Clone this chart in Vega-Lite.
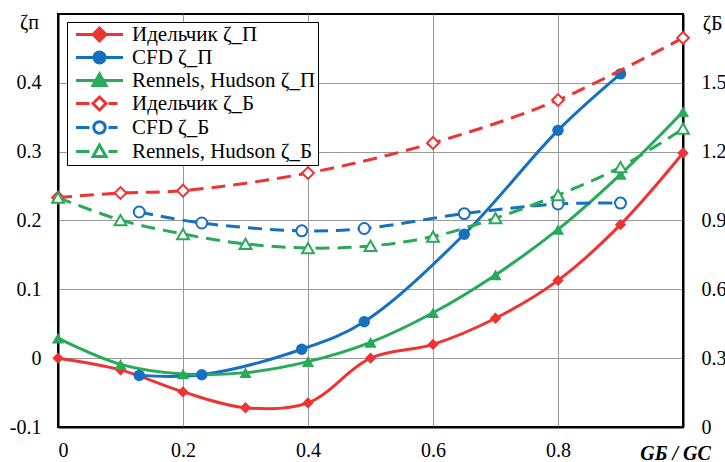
{
  "$schema": "https://vega.github.io/schema/vega-lite/v6.json",
  "width": 625,
  "height": 413,
  "autosize": {"type": "none"},
  "padding": {"left": 58, "top": 14, "right": 42, "bottom": 35},
  "background": "white",
  "config": {
    "font": "Liberation Serif, Times New Roman, serif",
    "view": {"stroke": "black", "strokeWidth": 2},
    "axis": {
      "labelFont": "Liberation Serif, Times New Roman, serif",
      "labelFontSize": 20,
      "labelColor": "black",
      "ticks": false,
      "domain": true,
      "domainColor": "black",
      "domainWidth": 2,
      "gridColor": "#999999",
      "gridWidth": 1,
      "gridOpacity": 1,
      "titleFont": "Liberation Serif, Times New Roman, serif",
      "titleColor": "black",
      "titleFontSize": 20,
      "titleFontWeight": "normal"
    },
    "legend": {
      "labelFont": "Liberation Serif, Times New Roman, serif",
      "labelFontSize": 21,
      "labelColor": "black",
      "labelLimit": 400
    }
  },
  "datasets": {
    "p": [
      {"x": 0, "z": 0, "s": "Идельчик ζ_П"},
      {"x": 0.1, "z": -0.017, "s": "Идельчик ζ_П"},
      {"x": 0.2, "z": -0.049, "s": "Идельчик ζ_П"},
      {"x": 0.3, "z": -0.072, "s": "Идельчик ζ_П"},
      {"x": 0.4, "z": -0.065, "s": "Идельчик ζ_П"},
      {"x": 0.5, "z": 0, "s": "Идельчик ζ_П"},
      {"x": 0.6, "z": 0.02, "s": "Идельчик ζ_П"},
      {"x": 0.7, "z": 0.058, "s": "Идельчик ζ_П"},
      {"x": 0.8, "z": 0.113, "s": "Идельчик ζ_П"},
      {"x": 0.9, "z": 0.194, "s": "Идельчик ζ_П"},
      {"x": 1.0, "z": 0.298, "s": "Идельчик ζ_П"},
      {"x": 0.13, "z": -0.025, "s": "CFD ζ_П"},
      {"x": 0.23, "z": -0.024, "s": "CFD ζ_П"},
      {"x": 0.39, "z": 0.013, "s": "CFD ζ_П"},
      {"x": 0.49, "z": 0.053, "s": "CFD ζ_П"},
      {"x": 0.65, "z": 0.18, "s": "CFD ζ_П"},
      {"x": 0.8, "z": 0.331, "s": "CFD ζ_П"},
      {"x": 0.9, "z": 0.413, "s": "CFD ζ_П"},
      {"x": 0, "z": 0.029, "s": "Rennels, Hudson ζ_П"},
      {"x": 0.1, "z": -0.009, "s": "Rennels, Hudson ζ_П"},
      {"x": 0.2, "z": -0.023, "s": "Rennels, Hudson ζ_П"},
      {"x": 0.3, "z": -0.021, "s": "Rennels, Hudson ζ_П"},
      {"x": 0.4, "z": -0.005, "s": "Rennels, Hudson ζ_П"},
      {"x": 0.5, "z": 0.023, "s": "Rennels, Hudson ζ_П"},
      {"x": 0.6, "z": 0.066, "s": "Rennels, Hudson ζ_П"},
      {"x": 0.7, "z": 0.121, "s": "Rennels, Hudson ζ_П"},
      {"x": 0.8, "z": 0.187, "s": "Rennels, Hudson ζ_П"},
      {"x": 0.9, "z": 0.267, "s": "Rennels, Hudson ζ_П"},
      {"x": 1.0, "z": 0.358, "s": "Rennels, Hudson ζ_П"}
    ],
    "b": [
      {"x": 0, "z": 1.0, "s": "Идельчик ζ_Б"},
      {"x": 0.1, "z": 1.02, "s": "Идельчик ζ_Б"},
      {"x": 0.2, "z": 1.03, "s": "Идельчик ζ_Б"},
      {"x": 0.4, "z": 1.107, "s": "Идельчик ζ_Б"},
      {"x": 0.6, "z": 1.238, "s": "Идельчик ζ_Б"},
      {"x": 0.8, "z": 1.425, "s": "Идельчик ζ_Б"},
      {"x": 1.0, "z": 1.696, "s": "Идельчик ζ_Б"},
      {"x": 0.13, "z": 0.937, "s": "CFD ζ_Б"},
      {"x": 0.23, "z": 0.889, "s": "CFD ζ_Б"},
      {"x": 0.39, "z": 0.855, "s": "CFD ζ_Б"},
      {"x": 0.49, "z": 0.865, "s": "CFD ζ_Б"},
      {"x": 0.65, "z": 0.93, "s": "CFD ζ_Б"},
      {"x": 0.8, "z": 0.972, "s": "CFD ζ_Б"},
      {"x": 0.9, "z": 0.976, "s": "CFD ζ_Б"},
      {"x": 0, "z": 1.0, "s": "Rennels, Hudson ζ_Б"},
      {"x": 0.1, "z": 0.902, "s": "Rennels, Hudson ζ_Б"},
      {"x": 0.2, "z": 0.841, "s": "Rennels, Hudson ζ_Б"},
      {"x": 0.3, "z": 0.798, "s": "Rennels, Hudson ζ_Б"},
      {"x": 0.4, "z": 0.78, "s": "Rennels, Hudson ζ_Б"},
      {"x": 0.5, "z": 0.789, "s": "Rennels, Hudson ζ_Б"},
      {"x": 0.6, "z": 0.83, "s": "Rennels, Hudson ζ_Б"},
      {"x": 0.7, "z": 0.91, "s": "Rennels, Hudson ζ_Б"},
      {"x": 0.8, "z": 1.011, "s": "Rennels, Hudson ζ_Б"},
      {"x": 0.9, "z": 1.133, "s": "Rennels, Hudson ζ_Б"},
      {"x": 1.0, "z": 1.3, "s": "Rennels, Hudson ζ_Б"}
    ]
  },
  "encoding": {
    "x": {
      "field": "x",
      "type": "quantitative",
      "scale": {"domain": [0, 1], "nice": false, "zero": false},
      "axis": {
        "values": [0, 0.2, 0.4, 0.6, 0.8],
        "labelExpr": "format(datum.value, '.1~f')",
        "labelPadding": 13,
        "title": "GБ / GС",
        "titleFontStyle": "italic",
        "titleFontWeight": "bold",
        "titleAngle": 0,
        "titleX": 617,
        "titleY": 26,
        "titleAlign": "center",
        "titleBaseline": "middle"
      }
    }
  },
  "layer": [
    {
      "data": {"name": "p"},
      "encoding": {
        "y": {
          "field": "z",
          "type": "quantitative",
          "scale": {"domain": [-0.1, 0.5], "nice": false, "zero": false},
          "axis": {
            "orient": "left",
            "values": [-0.1, 0, 0.1, 0.2, 0.3, 0.4],
            "labelExpr": "replace(format(datum.value, '.1~f'), '−', '-')",
            "labelPadding": 17,
            "title": "ζп",
            "titleAngle": 0,
            "titleX": -29,
            "titleY": 8,
            "titleAlign": "center",
            "titleBaseline": "middle"
          }
        }
      },
      "layer": [
        {
          "mark": {"type": "line", "interpolate": "catmull-rom", "strokeWidth": 3},
          "encoding": {
            "color": {
              "field": "s",
              "type": "nominal",
              "scale": {
                "domain": ["CFD ζ_П", "Идельчик ζ_П", "Rennels, Hudson ζ_П", "CFD ζ_Б", "Идельчик ζ_Б", "Rennels, Hudson ζ_Б"],
                "range": ["#1570C0", "#EE3333", "#28AA58", "#1570C0", "#EE3333", "#28AA58"]
              },
              "legend": null
            }
          }
        },
        {
          "transform": [{"filter": {"field": "s", "equal": "Идельчик ζ_П"}}],
          "mark": {"type": "point", "shape": "diamond", "filled": true, "size": 130, "color": "#EE3333", "opacity": 1}
        },
        {
          "transform": [{"filter": {"field": "s", "equal": "CFD ζ_П"}}],
          "mark": {"type": "point", "shape": "circle", "filled": true, "size": 130, "color": "#1570C0", "opacity": 1}
        },
        {
          "transform": [{"filter": {"field": "s", "equal": "Rennels, Hudson ζ_П"}}],
          "mark": {"type": "point", "shape": "triangle-up", "filled": true, "size": 150, "color": "#28AA58", "opacity": 1}
        }
      ]
    },
    {
      "data": {"name": "b"},
      "encoding": {
        "y": {
          "field": "z",
          "type": "quantitative",
          "scale": {"domain": [0, 1.8], "nice": false, "zero": false},
          "axis": {
            "orient": "right",
            "grid": false,
            "values": [0, 0.3, 0.6, 0.9, 1.2, 1.5],
            "labelExpr": "format(datum.value, '.1~f')",
            "labelPadding": 18,
            "title": "ζБ",
            "titleAngle": 0,
            "titleX": 29,
            "titleY": 9,
            "titleAlign": "center",
            "titleBaseline": "middle"
          }
        }
      },
      "layer": [
        {
          "mark": {"type": "line", "interpolate": "catmull-rom", "strokeWidth": 3, "strokeDash": [14, 8]},
          "encoding": {
            "color": {
              "field": "s",
              "type": "nominal",
              "scale": {
                "domain": ["CFD ζ_П", "Идельчик ζ_П", "Rennels, Hudson ζ_П", "CFD ζ_Б", "Идельчик ζ_Б", "Rennels, Hudson ζ_Б"],
                "range": ["#1570C0", "#EE3333", "#28AA58", "#1570C0", "#EE3333", "#28AA58"]
              },
              "legend": null
            }
          }
        },
        {
          "transform": [{"filter": {"field": "s", "equal": "Идельчик ζ_Б"}}],
          "mark": {"type": "point", "shape": "diamond", "filled": false, "fill": "white", "fillOpacity": 1, "stroke": "#EE3333", "strokeWidth": 2, "size": 140, "opacity": 1}
        },
        {
          "transform": [{"filter": {"field": "s", "equal": "CFD ζ_Б"}}],
          "mark": {"type": "point", "shape": "circle", "filled": false, "fill": "white", "fillOpacity": 1, "stroke": "#1570C0", "strokeWidth": 2, "size": 120, "opacity": 1}
        },
        {
          "transform": [{"filter": {"field": "s", "equal": "Rennels, Hudson ζ_Б"}}],
          "mark": {"type": "point", "shape": "triangle-up", "filled": false, "fill": "white", "fillOpacity": 1, "stroke": "#28AA58", "strokeWidth": 2, "size": 140, "opacity": 1}
        },
        {
          "transform": [{"filter": "datum.x > 5"}],
          "mark": {"type": "point", "strokeWidth": 3, "size": 100, "filled": true, "opacity": 1},
          "encoding": {
            "shape": {
              "field": "s",
              "type": "nominal",
              "scale": {
                "domain": ["Идельчик ζ_П", "CFD ζ_П", "Rennels, Hudson ζ_П", "Идельчик ζ_Б", "CFD ζ_Б", "Rennels, Hudson ζ_Б"],
                "range": [
                  "M-4.7,0H4.7M0,-1.3L1.3,0L0,1.3L-1.3,0Z",
                  "M-4.7,0H4.7M1.1,0A1.1,1.1,0,1,1,-1.1,0A1.1,1.1,0,1,1,1.1,0Z",
                  "M-4.7,0H4.7M0,-1.3L1.3,1L-1.3,1Z",
                  "M-4.7,0H-2M1.8,0H3.6M0,-1.3L1.3,0L0,1.3L-1.3,0Z",
                  "M-4.7,0H-2M1.8,0H3.6M1.15,0A1.15,1.15,0,1,1,-1.15,0A1.15,1.15,0,1,1,1.15,0Z",
                  "M-4.7,0H-2M1.8,0H3.6M0,-1.3L1.3,1L-1.3,1Z"
                ]
              },
              "legend": {
                "title": null, "orient": "none", "legendX": 9, "legendY": 8, "padding": 2,
                "symbolOffset": 20, "labelOffset": 22, "symbolSize": 100, "symbolOpacity": 1,
                "symbolStrokeWidth": 3, "rowPadding": -1,
                "strokeColor": "black", "fillColor": "white"
              }
            },
            "stroke": {
              "field": "s",
              "type": "nominal",
              "scale": {
                "domain": ["Идельчик ζ_П", "CFD ζ_П", "Rennels, Hudson ζ_П", "Идельчик ζ_Б", "CFD ζ_Б", "Rennels, Hudson ζ_Б"],
                "range": ["#EE3333", "#1570C0", "#28AA58", "#EE3333", "#1570C0", "#28AA58"]
              }
            },
            "fill": {
              "field": "s",
              "type": "nominal",
              "scale": {
                "domain": ["Идельчик ζ_П", "CFD ζ_П", "Rennels, Hudson ζ_П", "Идельчик ζ_Б", "CFD ζ_Б", "Rennels, Hudson ζ_Б"],
                "range": ["#EE3333", "#1570C0", "#28AA58", "#FFFFFF", "#FFFFFF", "#FFFFFF"]
              }
            }
          }
        }
      ]
    }
  ],
  "resolve": {"scale": {"y": "independent"}}
}
